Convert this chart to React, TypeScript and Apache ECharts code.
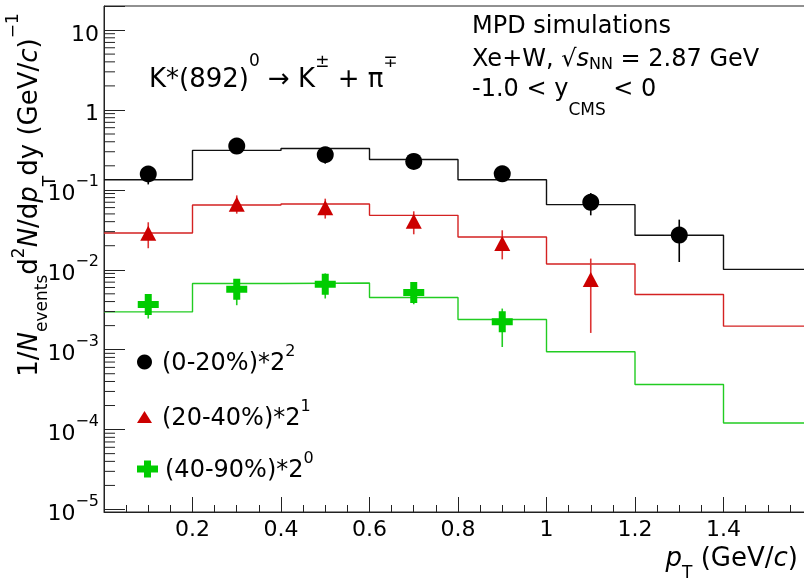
import React, { useEffect, useRef } from 'react';
import * as echarts from 'echarts';

const FONT = "'DejaVu Sans', sans-serif";

// Histogram bin low edges (GeV/c) and upper edge
const binLowEdges = [0, 0.2, 0.4, 0.6, 0.8, 1.0, 1.2, 1.4];
const upperEdge = 1.6;

// Model histograms (already scaled)
const histCentral = [0.134, 0.312, 0.33, 0.24, 0.134, 0.0653, 0.027, 0.0101];
const histMid = [0.0288, 0.0646, 0.0664, 0.048, 0.0257, 0.0118, 0.0049, 0.00197];
const histPeriph = [0.00297, 0.00672, 0.00684, 0.00449, 0.00239, 0.00094, 0.000367, 0.000121];

// Simulated data points
const ptCentral = [0.1, 0.3, 0.5, 0.7, 0.9, 1.1, 1.3];
const valCentral = [0.158, 0.353, 0.275, 0.227, 0.159, 0.0698, 0.0272];
const lowCentral = [0.117, 0.33, 0.213, 0.21, 0.145, 0.048, 0.0125];
const highCentral = [0.195, 0.38, 0.3, 0.245, 0.175, 0.0912, 0.0424];

const ptMid = [0.1, 0.3, 0.5, 0.7, 0.9, 1.1];
const valMid = [0.0286, 0.0659, 0.0599, 0.0404, 0.0213, 0.00754];
const lowMid = [0.0186, 0.0504, 0.0437, 0.0278, 0.0135, 0.00162];
const highMid = [0.0393, 0.0853, 0.0776, 0.0539, 0.0312, 0.0138];

const ptPeriph = [0.1, 0.3, 0.5, 0.7, 0.9];
const valPeriph = [0.00367, 0.0057, 0.00659, 0.00519, 0.00223];
const lowPeriph = [0.00245, 0.0036, 0.00437, 0.0037, 0.00108];
const highPeriph = [0.0049, 0.0076, 0.009, 0.0068, 0.00327];

// Axis ranges / ticks
const xMin = 0;
const xMax = 1.6;
const xInterval = 0.2;
const yMin = 9.3e-6;
const yMax = 20;
const minorDecades = [-6, -5, -4, -3, -2, -1, 0, 1];
const minorMultipliers = [2, 3, 4, 5, 6, 7, 8, 9];

const seriesNames = ['(0-20%)*2^2', '(20-40%)*2^1', '(40-90%)*2^0'];
const legendTexts = ['{b|(0-20%)*2}{s|2}', '{b|(20-40%)*2}{s|1}', '{b|(40-90%)*2}{s|0}'];

const BLACK = '#000000';
const RED = '#cc0000';
const GREEN = '#00cc00';
const RED_LINE = '#d42222';
const GREEN_LINE = '#22cc22';

const CROSS = 'path://M7,0H14V7H21V14H14V21H7V14H0V7H7Z';
const CROSS_LEG = 'path://M7,0H14V5H21V12H14V17H7V12H0V5H7Z';
const TRI_LEG = 'path://M0,12L7.5,0L15,12Z';

type Seg = { t: string; fs: number; it?: boolean; dy?: number };

// Text pieces (sub/superscripts given as baseline shifts)
const mpdLine: Seg[] = [{ t: 'MPD simulations', fs: 24 }];
const systemLine: Seg[] = [
  { t: 'Xe+W, \u221A', fs: 24 },
  { t: 's', fs: 24, it: true },
  { t: 'NN', fs: 16, dy: 2.5 },
  { t: ' = 2.87 GeV', fs: 24 },
];
const rapidityLine: Seg[] = [
  { t: '-1.0 < y', fs: 24 },
  { t: 'CMS', fs: 17, dy: 18 },
  { t: ' < 0', fs: 24 },
];
const decayLine: Seg[] = [
  { t: 'K*(892)', fs: 26 },
  { t: '0', fs: 17, dy: -21 },
  { t: ' \u2192 K', fs: 26 },
  { t: '\u00B1', fs: 17, dy: -20 },
  { t: ' + \u03C0', fs: 26 },
  { t: '\u2213', fs: 17, dy: -20 },
];
const xTitle: Seg[] = [
  { t: 'p', fs: 26, it: true },
  { t: 'T', fs: 17, dy: 12 },
  { t: ' (GeV/', fs: 26 },
  { t: 'c', fs: 26, it: true },
  { t: ')', fs: 26 },
];
const yTitle: Seg[] = [
  { t: '1/', fs: 26 },
  { t: 'N', fs: 26, it: true },
  { t: 'events', fs: 17, dy: 10 },
  { t: 'd', fs: 26 },
  { t: '2', fs: 17, dy: -13 },
  { t: 'N', fs: 26, it: true },
  { t: '/d', fs: 26 },
  { t: 'p', fs: 26, it: true },
  { t: 'T', fs: 17, dy: 18 },
  { t: 'dy (GeV/', fs: 26 },
  { t: 'c', fs: 26, it: true },
  { t: ')', fs: 26 },
  { t: '\u22121', fs: 17, dy: -19 },
];

const CENTRAL = 0.346;
let measureCtx: CanvasRenderingContext2D | null = null;
function textWidth(s: Seg) {
  if (!measureCtx) measureCtx = document.createElement('canvas').getContext('2d');
  measureCtx!.font = `${s.it ? 'italic ' : ''}${s.fs}px ${FONT}`;
  return measureCtx!.measureText(s.t).width;
}
function segStyle(s: Seg) {
  return {
    text: s.t, fontSize: s.fs, fontFamily: FONT, fontStyle: s.it ? 'italic' : 'normal',
    fill: '#000', align: 'left', verticalAlign: 'middle',
  };
}
function lineElems(segs: Seg[], x: number, baseline: number, align: 'left' | 'right' = 'left') {
  const widths = segs.map(textWidth);
  const total = widths.reduce((a, b) => a + b, 0);
  let cx = align === 'right' ? x - total : x;
  return segs.map((s, i) => {
    const el = { type: 'text', silent: true, x: cx, y: baseline + (s.dy || 0) - CENTRAL * s.fs, style: segStyle(s) };
    cx += widths[i];
    return el;
  });
}
function rotatedElems(segs: Seg[], baselineX: number, centerY: number) {
  const widths = segs.map(textWidth);
  const total = widths.reduce((a, b) => a + b, 0);
  let cy = centerY + total / 2;
  return segs.map((s, i) => {
    const el = {
      type: 'text', silent: true, rotation: Math.PI / 2,
      x: baselineX + (s.dy || 0) - CENTRAL * s.fs, y: cy, style: segStyle(s),
    };
    cy -= widths[i];
    return el;
  });
}

function histData(vals: number[]) {
  const d = binLowEdges.map((x, i) => [x, vals[i]]);
  d.push([upperEdge, vals[vals.length - 1]]);
  return d;
}

function errData(xs: number[], lo: number[], hi: number[]) {
  return xs.map((x, i) => [x, lo[i], hi[i]]);
}

function errSeries(data: number[][], color: string) {
  return {
    type: 'custom',
    silent: true,
    z: 3,
    encode: { x: 0, y: [1, 2] },
    data,
    renderItem: (params: any, api: any) => {
      const x = api.value(0);
      const a = api.coord([x, api.value(1)]);
      const b = api.coord([x, api.value(2)]);
      return {
        type: 'line',
        shape: { x1: a[0], y1: a[1], x2: b[0], y2: b[1] },
        style: { stroke: color, lineWidth: 1.6 },
      };
    },
  };
}

const minorTickValues: number[] = [];
minorDecades.forEach((d) => {
  minorMultipliers.forEach((m) => {
    const v = m * Math.pow(10, d);
    if (v > yMin && v < yMax * 0.999) minorTickValues.push(v);
  });
});

export default function App() {
  const ref = useRef<HTMLDivElement>(null);
  useEffect(() => {
    if (!ref.current) return;
    const chart = echarts.init(ref.current, undefined, { renderer: 'svg' });
    const axisColor = '#222';
    const LH = 40;
    const option: any = {
      animation: false,
      textStyle: { fontFamily: FONT },
      grid: {
        left: 104, right: 18, top: 6, bottom: 73,
        show: true, borderColor: axisColor, borderWidth: 1,
        backgroundColor: 'rgba(0,0,0,0)', containLabel: false, outerBoundsMode: 'none',
      },
      xAxis: {
        type: 'value', min: xMin, max: xMax, interval: xInterval,
        axisLine: { onZero: false, lineStyle: { color: axisColor, width: 1 } },
        axisTick: { inside: true, length: 15, lineStyle: { color: axisColor, width: 1 } },
        minorTick: { show: true, splitNumber: 4, length: 7, lineStyle: { color: axisColor, width: 1 } },
        splitLine: { show: false },
        minorSplitLine: { show: false },
        axisLabel: {
          margin: 7, fontSize: 22, lineHeight: 19, color: '#000', fontFamily: FONT,
          formatter: (v: number) => (v < 1e-9 || v > xMax - 1e-6 ? '' : String(+v.toFixed(1))),
        },
      },
      yAxis: {
        type: 'log', logBase: 10, min: yMin, max: yMax,
        axisLine: { onZero: false, lineStyle: { color: axisColor, width: 1 } },
        axisTick: { inside: true, length: 21, lineStyle: { color: axisColor, width: 1 } },
        splitLine: { show: false },
        axisLabel: {
          margin: 5, color: '#000', fontFamily: FONT, fontSize: 22, padding: [6, 0, 0, 0],
          formatter: (v: number) => {
            const l = Math.log10(v);
            const e = Math.round(l);
            if (Math.abs(l - e) > 1e-6) return '';
            if (e === 1) return '{b|10}';
            if (e === 0) return '{b|1}';
            return '{b|10}{s|\u2212' + -e + '}';
          },
          rich: {
            b: { fontSize: 22, lineHeight: LH, color: '#000', fontFamily: FONT },
            s: { fontSize: 16, lineHeight: LH - 19, verticalAlign: 'top', color: '#000', fontFamily: FONT },
          },
        },
      },
      legend: [0, 1, 2].map((i) => ({
        data: [{ name: seriesNames[i], icon: ['circle', TRI_LEG, CROSS_LEG][i] }],
        left: 137,
        top: [342, 397, 449][i],
        padding: 0,
        itemWidth: 25,
        itemHeight: [15, 12, 17][i],
        symbolKeepAspect: true,
        selectedMode: false,
        formatter: () => legendTexts[i],
        textStyle: {
          fontSize: 24, fontFamily: FONT, color: '#000',
          rich: {
            b: { fontSize: 24, lineHeight: LH, color: '#000', fontFamily: FONT },
            s: { fontSize: 16, lineHeight: LH - 16, verticalAlign: 'top', color: '#000', fontFamily: FONT },
          },
        },
      })),
      graphic: [
        ...lineElems(mpdLine, 472, 33.3),
        ...lineElems(systemLine, 472, 66.7),
        ...lineElems(rapidityLine, 472, 96.7),
        ...lineElems(decayLine, 149, 86.7),
        ...lineElems(xTitle, 798, 566, 'right'),
        ...rotatedElems(yTitle, 37, 195),
      ],
      series: [
        {
          type: 'line', name: 'hist0', step: 'end', data: histData(histCentral), showSymbol: false, symbol: 'none',
          lineStyle: { color: '#111', width: 1.4 }, z: 2, silent: true,
        },
        {
          type: 'line', name: 'hist1', step: 'end', data: histData(histMid), showSymbol: false, symbol: 'none',
          lineStyle: { color: RED_LINE, width: 1.4 }, z: 2, silent: true,
        },
        {
          type: 'line', name: 'hist2', step: 'end', data: histData(histPeriph), showSymbol: false, symbol: 'none',
          lineStyle: { color: GREEN_LINE, width: 1.4 }, z: 2, silent: true,
        },
        errSeries(errData(ptCentral, lowCentral, highCentral), BLACK),
        errSeries(errData(ptMid, lowMid, highMid), '#d33'),
        errSeries(errData(ptPeriph, lowPeriph, highPeriph), '#22cc22'),
        {
          type: 'scatter', name: seriesNames[0], data: ptCentral.map((x, i) => [x, valCentral[i]]),
          symbol: 'circle', symbolSize: 17, itemStyle: { color: BLACK, opacity: 1 }, z: 4,
        },
        {
          type: 'scatter', name: seriesNames[1], data: ptMid.map((x, i) => [x, valMid[i]]),
          symbol: 'triangle', symbolSize: [16, 15], itemStyle: { color: RED, opacity: 1 }, z: 4,
        },
        {
          type: 'scatter', name: seriesNames[2], data: ptPeriph.map((x, i) => [x, valPeriph[i]]),
          symbol: CROSS, symbolSize: 21, itemStyle: { color: GREEN, opacity: 1 }, z: 4,
        },
        {
          type: 'custom', name: 'minorTicks', silent: true, z: 5,
          encode: { x: 0, y: 1 },
          data: minorTickValues.map((v) => [0, v]),
          renderItem: (params: any, api: any) => {
            const p = api.coord([0, api.value(1)]);
            return {
              type: 'line',
              shape: { x1: p[0], y1: p[1], x2: p[0] + 11, y2: p[1] },
              style: { stroke: axisColor, lineWidth: 1 },
            };
          },
        },
      ],
    };
    chart.setOption(option);
    return () => chart.dispose();
  }, []);
  return <div ref={ref} style={{ position: 'fixed', left: 0, top: 0, width: 830, height: 585 }} />;
}
